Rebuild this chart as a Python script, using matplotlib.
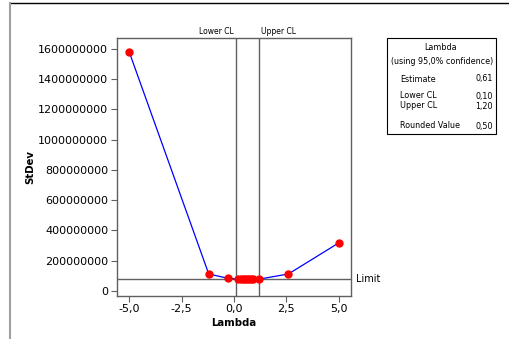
import matplotlib
matplotlib.use("Agg")
import matplotlib.pyplot as plt
from matplotlib.lines import Line2D
from matplotlib.patches import Rectangle

# Box-Cox plot data
lam = [-5.0, -1.2, -0.3, 0.2, 0.35, 0.45, 0.55, 0.61, 0.7, 0.8, 0.9, 1.2, 2.6, 5.0]
stdev = [1.582e9, 1.12e8, 8.4e7, 7.8e7, 7.75e7, 7.72e7, 7.71e7, 7.7e7, 7.71e7, 7.73e7, 7.76e7, 7.8e7, 1.12e8, 3.17e8]
lower_cl = 0.10
upper_cl = 1.20
limit = 7.7e7
xticks = [-5.0, -2.5, 0.0, 2.5, 5.0]
xtick_labels = ["-5,0", "-2,5", "0,0", "2,5", "5,0"]
yticks = [0, 200000000, 400000000, 600000000, 800000000, 1000000000,
          1200000000, 1400000000, 1600000000]
box_rows = [("Estimate", "0,61"), ("Lower CL", "0,10"), ("Upper CL", "1,20"), ("Rounded Value", "0,50")]

spine_col = "#606060"

fig = plt.figure(figsize=(5.09, 3.39), dpi=100)
ax = fig.add_axes([0.229, 0.128, 0.461, 0.761])

ax.axvline(lower_cl, color=spine_col, lw=1)
ax.axvline(upper_cl, color=spine_col, lw=1)
ax.axhline(limit, color=spine_col, lw=1)
ax.plot(lam, stdev, '-', color='blue', lw=0.9, zorder=3)
ax.plot(lam, stdev, 'o', color='red', ms=5, zorder=4)

ax.set_xlim(-5.6, 5.6)
ax.set_ylim(-3.1e7, 1.675e9)
ax.set_xticks(xticks)
ax.set_xticklabels(xtick_labels)
ax.set_yticks(yticks)
ax.set_yticklabels([str(v) for v in yticks])
ax.tick_params(labelsize=8, length=4, color=spine_col, width=0.8, pad=2)
for s in ax.spines.values():
    s.set_color(spine_col)
    s.set_linewidth(1)

ax.set_xlabel("Lambda", fontsize=7.3, fontweight='bold', labelpad=3)
ax.set_ylabel("StDev", fontsize=7.3, fontweight='bold', labelpad=2)

ax.text(lower_cl - 0.1, 1.685e9, "Lower CL", fontsize=5.5, ha='right', va='bottom')
ax.text(upper_cl + 0.1, 1.685e9, "Upper CL", fontsize=5.5, ha='left', va='bottom')
ax.text(5.85, limit, "Limit", fontsize=7, ha='left', va='center', clip_on=False)

# info box
W, H = 509, 339
def fx(px):
    return px / W
def fy(py):
    return 1 - py / H

fig.patches.append(Rectangle((fx(387), fy(134)), fx(496) - fx(387), fy(38) - fy(134),
                             transform=fig.transFigure, fill=False, ec='black', lw=0.8))
fig.text(fx(441), fy(47), "Lambda", fontsize=5.8, ha='center', va='center')
fig.text(fx(442), fy(62), "(using 95,0% confidence)", fontsize=5.8, ha='center', va='center')
row_y = [79, 96, 106, 126]
for (name, val), y in zip(box_rows, row_y):
    fig.text(fx(400), fy(y), name, fontsize=5.8, ha='left', va='center')
    fig.text(fx(493), fy(y), val, fontsize=5.8, ha='right', va='center')

# frame lines from the original screenshot
fig.add_artist(Line2D([fx(10), 1], [fy(3), fy(3)], transform=fig.transFigure, color='black', lw=1))
fig.add_artist(Line2D([fx(10), fx(10)], [fy(3), 0], transform=fig.transFigure, color='#a0a0a0', lw=1.5))

fig.savefig("out.png", dpi=100)
